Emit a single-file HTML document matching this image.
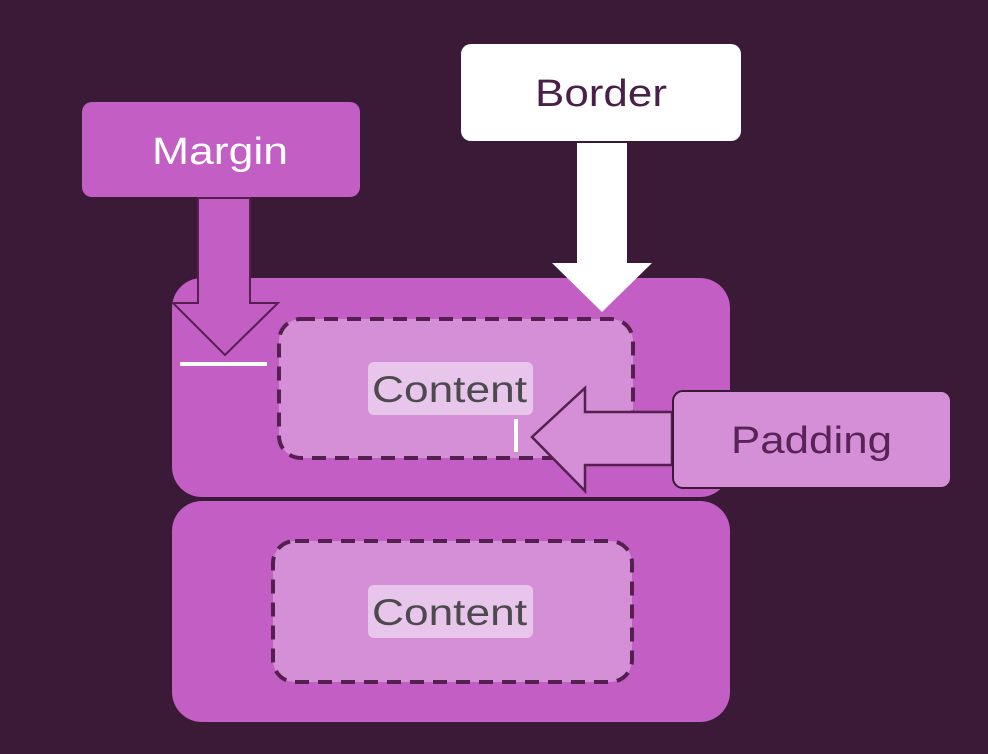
<!DOCTYPE html>
<html><head><meta charset="utf-8"><style>
html,body{margin:0;padding:0;background:#3b1a38;}
svg{display:block}
text{font-family:"Liberation Sans",sans-serif;}
</style></head><body>
<svg width="988" height="754" viewBox="0 0 988 754" xmlns="http://www.w3.org/2000/svg">
<rect width="988" height="754" fill="#3b1a38"/>
<rect x="172" y="278" width="558" height="219" rx="30" fill="#c25ec4"/>
<rect x="172" y="501" width="558" height="221" rx="30" fill="#c25ec4"/>
<rect x="279" y="319" width="354" height="139" rx="22" fill="#d48fd6" stroke="#55204f" stroke-width="4" stroke-dasharray="14,9"/>
<rect x="273" y="541" width="359" height="141" rx="22" fill="#d48fd6" stroke="#55204f" stroke-width="4" stroke-dasharray="14,9"/>
<rect x="368" y="362" width="165" height="53" rx="6" fill="#e8c5ea"/>
<text x="372" y="402" font-size="37" fill="#4d4a4f" textLength="155" lengthAdjust="spacingAndGlyphs">Content</text>
<rect x="368" y="585" width="165" height="53" rx="6" fill="#e8c5ea"/>
<text x="372" y="625" font-size="37" fill="#4d4a4f" textLength="155" lengthAdjust="spacingAndGlyphs">Content</text>
<rect x="82" y="102" width="278" height="95" rx="10" fill="#c25ec4"/>
<text x="152" y="164" font-size="38" fill="#fff" textLength="136" lengthAdjust="spacingAndGlyphs">Margin</text>
<polygon points="198,198 250,198 250,303 278,303 225,355 173,303 198,303" fill="#c25ec4" stroke="#55204f" stroke-width="2"/>
<line x1="180" y1="364" x2="267" y2="364" stroke="#fff" stroke-width="4"/>
<rect x="461" y="44" width="280" height="97" rx="10" fill="#fff"/>
<text x="535" y="106" font-size="38" fill="#4a1f48" textLength="132" lengthAdjust="spacingAndGlyphs">Border</text>
<polygon points="577,143 627,143 627,263 652,263 602,312 552,263 577,263" fill="#fff"/>
<polygon points="672,412 585,412 585,388 532,437 585,491 585,465 672,465" fill="#d48fd6" stroke="#55204f" stroke-width="2.5"/>
<line x1="516" y1="419" x2="516" y2="452" stroke="#fff" stroke-width="4"/>
<rect x="673" y="391" width="278" height="97" rx="10" fill="#d48fd6" stroke="#3b1a38" stroke-width="2"/>
<text x="731" y="453" font-size="38" fill="#5a2357" textLength="161" lengthAdjust="spacingAndGlyphs">Padding</text>
</svg>
</body></html>
